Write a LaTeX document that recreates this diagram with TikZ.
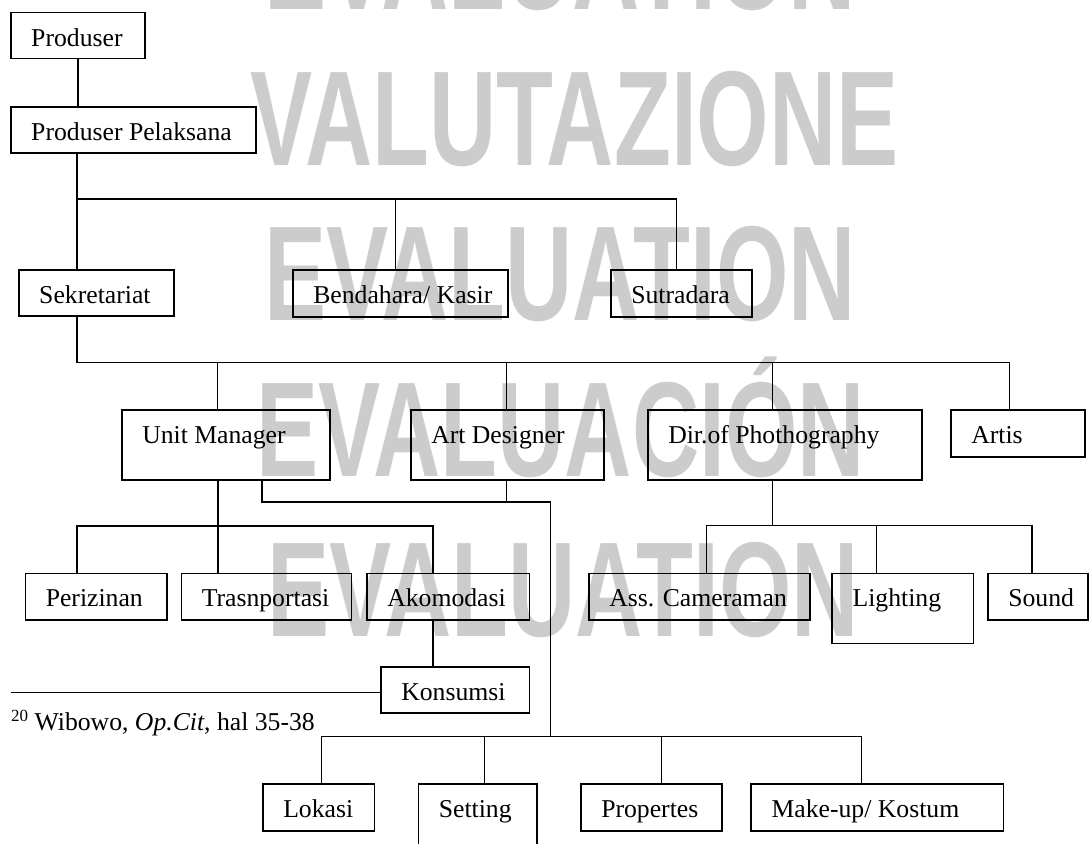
\documentclass[tikz,border=0pt]{standalone}
\usepackage{graphicx}
\usepackage{fontspec}
\setmainfont{Liberation Serif}
\newfontfamily\wmfont{Liberation Sans}
\usetikzlibrary{calc}

\newcommand\obox[6]{%
  \pgfmathsetmacro\obw{#4-#2}%
  \pgfmathsetmacro\obd{#5-#3-33.5}%
  \node[box, text height=33.5pt, text depth=\obd pt] (#1) at (#2,#3)
    {\hbox to \obw pt{\hskip20.5pt #6\hss}};}

\begin{document}
\begin{tikzpicture}[x=1pt,y=-1pt,
  box/.style={draw=black, line width=1.5pt, inner sep=0pt, anchor=north west,
    font=\fontsize{25.7}{30}\selectfont},
  conn/.style={draw=black, line width=1.5pt},
  wm/.style={text=black!20, inner sep=0pt, anchor=base west,
    font=\wmfont\bfseries\fontsize{135}{135}\selectfont},
  note/.style={inner sep=0pt, anchor=base west, font=\fontsize{25.7}{30}\selectfont}]

\useasboundingbox (0,0) rectangle (1091,843);
\clip (0,0) rectangle (1091,843);

% watermark
\node[wm] (wm1) at (264,10)  {\scalebox{0.69}[1]{EVALUATION}};
\node[wm] (wm2) at (250,165) {\scalebox{0.69}[1]{VALUTAZIONE}};
\node[wm] (wm3) at (264,320) {\scalebox{0.69}[1]{EVALUATION}};
\node[wm] (wm4) at (256,476) {\scalebox{0.69}[1]{EVALUACIÓN}};
\node[wm] (wm5) at (267,636) {\scalebox{0.69}[1]{EVALUATION}};

% boxes
\obox{prod}{10}{12}{144}{58}{Produser}
\obox{pp}{10}{106}{255}{152}{Produser Pelaksana}
\obox{sek}{18}{269}{173}{315}{Sekretariat}
\obox{bend}{292}{269}{507}{316}{Bendahara/ Kasir}
\obox{sut}{610}{269}{751}{316}{Sutradara}
\obox{um}{121}{409}{329}{479}{Unit Manager}
\obox{art}{410}{409}{603}{479}{Art Designer}
\obox{dir}{647}{409}{921}{479}{Dir.of Phothography}
\obox{artis}{950}{409}{1084}{456}{Artis}
\obox{per}{24.5}{572.5}{166}{619}{Perizinan}
\obox{tra}{180.5}{572.5}{350.5}{619}{Trasnportasi}
\obox{ako}{366}{572.5}{528.5}{619}{Akomodasi}
\obox{kon}{380}{666}{528.5}{712.3}{Konsumsi}
\obox{cam}{588}{572.5}{809.3}{619}{Ass. Cameraman}
\obox{lig}{831.3}{572.5}{972.5}{642.7}{Lighting}
\obox{snd}{987}{572.5}{1087}{619}{Sound}
\obox{lok}{262}{783}{373.5}{830}{Lokasi}
\obox{set}{417.6}{783}{536}{870}{Setting}
\obox{prop}{580}{783}{721}{830}{Propertes}
\obox{mk}{750.3}{783}{1002.7}{830}{Make-up/ Kostum}

% junctions
\coordinate (j1)  at (77,199);
\coordinate (j1b) at (395.3,199);
\coordinate (j1c) at (676.3,199);
\coordinate (j2)  at (77,362.3);
\coordinate (j2a) at (217.7,362.3);
\coordinate (j2b) at (506.5,362.3);
\coordinate (j2c) at (772.5,362.3);
\coordinate (j2d) at (1009.3,362.3);
\coordinate (j3)  at (217.8,526);
\coordinate (j3a) at (76.8,526);
\coordinate (j3b) at (432.8,526);
\coordinate (j4)  at (262,502);
\coordinate (j4a) at (506.5,502);
\coordinate (j4b) at (550.5,502);
\coordinate (j5)  at (550.5,736.3);
\coordinate (j5a) at (321.7,736.3);
\coordinate (j5b) at (484.4,736.3);
\coordinate (j5c) at (661.3,736.3);
\coordinate (j5d) at (861.7,736.3);
\coordinate (j6)  at (772.7,525.7);
\coordinate (j6a) at (706.3,525.7);
\coordinate (j6b) at (876.3,525.7);
\coordinate (j6c) at (1032,525.7);
\coordinate (fnl) at (11,692.3);

% connectors
\draw[conn] (prod.south) -- (prod.south |- pp.north);
\draw[conn] (j1 |- pp.south) -- (j1 |- sek.north);
\draw[conn] (j1) -- (j1c) -- (j1c |- sut.north);
\draw[conn] (j1b) -- (j1b |- bend.north);

\draw[conn] (j2 |- sek.south) -- (j2) -- (j2d) -- (j2d |- artis.north);
\draw[conn] (j2a) -- (j2a |- um.north);
\draw[conn] (j2b) -- (j2b |- art.north);
\draw[conn] (j2c) -- (j2c |- dir.north);

\draw[conn] (j3 |- um.south) -- (j3 |- tra.north);
\draw[conn] (j3a |- per.north) -- (j3a) -- (j3b) -- (j3b |- ako.north);
\draw[conn] (j3b |- ako.south) -- (j3b |- kon.north);

\draw[conn] (j4 |- um.south) -- (j4) -- (j4b) -- (j5);
\draw[conn] (j4a |- art.south) -- (j4a);
\draw[conn] (j5a |- lok.north) -- (j5a) -- (j5d) -- (j5d |- mk.north);
\draw[conn] (j5b) -- (j5b |- set.north);
\draw[conn] (j5c) -- (j5c |- prop.north);

\draw[conn] (j6 |- dir.south) -- (j6);
\draw[conn] (j6a |- cam.north) -- (j6a) -- (j6c) -- (j6c |- snd.north);
\draw[conn] (j6b) -- (j6b |- lig.north);

% footnote
\draw[conn] (fnl) -- (fnl -| kon.west);
\node[note] (fn) at (11,730) {\raisebox{8.5pt}{\fontsize{17}{17}\selectfont 20} Wibowo, \textit{Op.Cit}, hal 35-38};

\end{tikzpicture}
\end{document}
